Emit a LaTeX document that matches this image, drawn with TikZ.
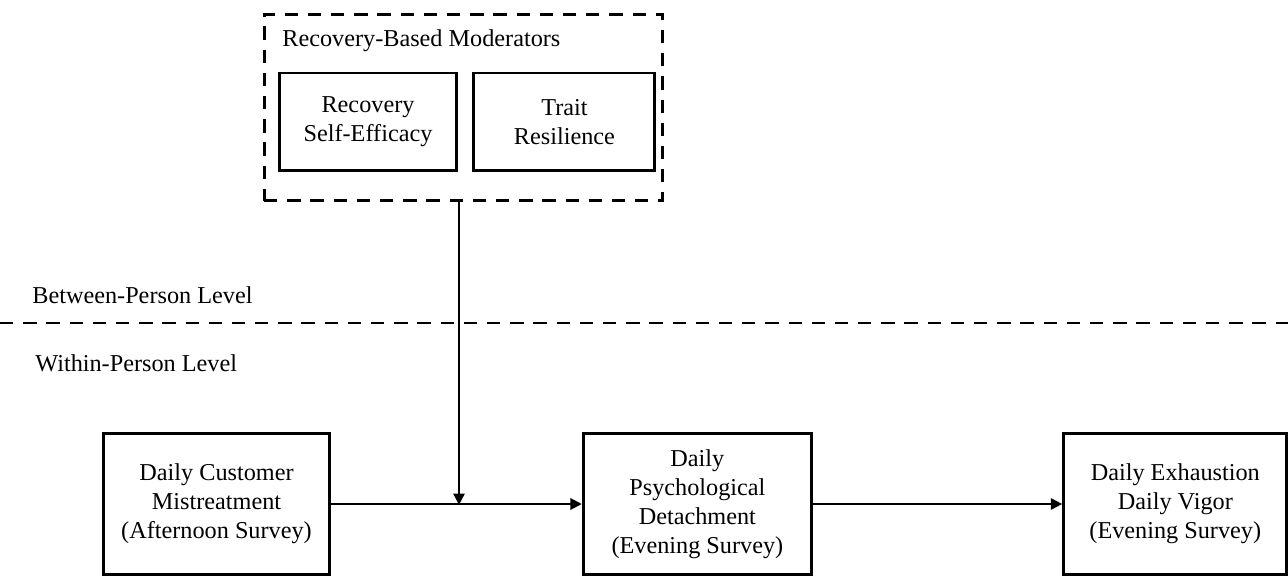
\documentclass[tikz,border=0pt]{standalone}
\usepackage{fontspec}
\setmainfont{Liberation Serif}
\usetikzlibrary{arrows.meta,positioning}

\tikzset{
  txt/.style={font=\fontsize{13.8pt}{16.6pt}\selectfont},
  varbox/.style={rectangle, draw, line width=1.7pt, align=center, txt},
  modbox/.style={varbox, minimum width=3.56cm, minimum height=1.96cm},
  obsbox/.style={varbox, minimum width=4.54cm, minimum height=2.84cm},
  dashline/.style={line width=1.7pt, dash pattern=on 7.6pt off 5.6pt},
  lvl/.style={anchor=west, inner sep=0pt, txt},
  link/.style={line width=1.7pt, -{Triangle[length=0.23cm,width=0.22cm]}}
}

\begin{document}
\begin{tikzpicture}[x=0.02cm, y=-0.02cm]
\useasboundingbox (0,0) rectangle (1288,577);

% between-person moderators
\node[rectangle, draw, dashline, minimum width=7.98cm, minimum height=3.74cm] (mods) at (463.5,107.5) {};
\node[lvl] (modtitle) at (282,41) {Recovery-Based Moderators};
\node[modbox] (selfeff) at (368,122) {Recovery\\Self-Efficacy};
\node[modbox, right=0.28cm of selfeff, minimum width=3.62cm] (resil) {Trait\\Resilience};

% level separator
\coordinate (sepL) at (0,323);
\coordinate (sepR) at (1288,323);
\draw[dashline] (sepL) -- (sepR);
\node[lvl] (between) at (32,295) {Between-Person Level};
\node[lvl] (within) at (35,363) {Within-Person Level};

% within-person chain
\node[obsbox] (mistreat) at (216.5,504) {Daily Customer\\Mistreatment\\(Afternoon Survey)};
\node[obsbox, right=5.01cm of mistreat, minimum width=4.56cm] (detach) {Daily\\Psychological\\Detachment\\(Evening Survey)};
\node[obsbox, right=4.99cm of detach, minimum width=4.46cm] (outcome) {Daily Exhaustion\\Daily Vigor\\(Evening Survey)};

\coordinate (join) at (459,505);
\draw[link] (mistreat.east) -- (detach.west);
\draw[link] (detach.east) -- (outcome.west);
\draw[link] (mods.south -| join) -- (join);
\end{tikzpicture}
\end{document}
